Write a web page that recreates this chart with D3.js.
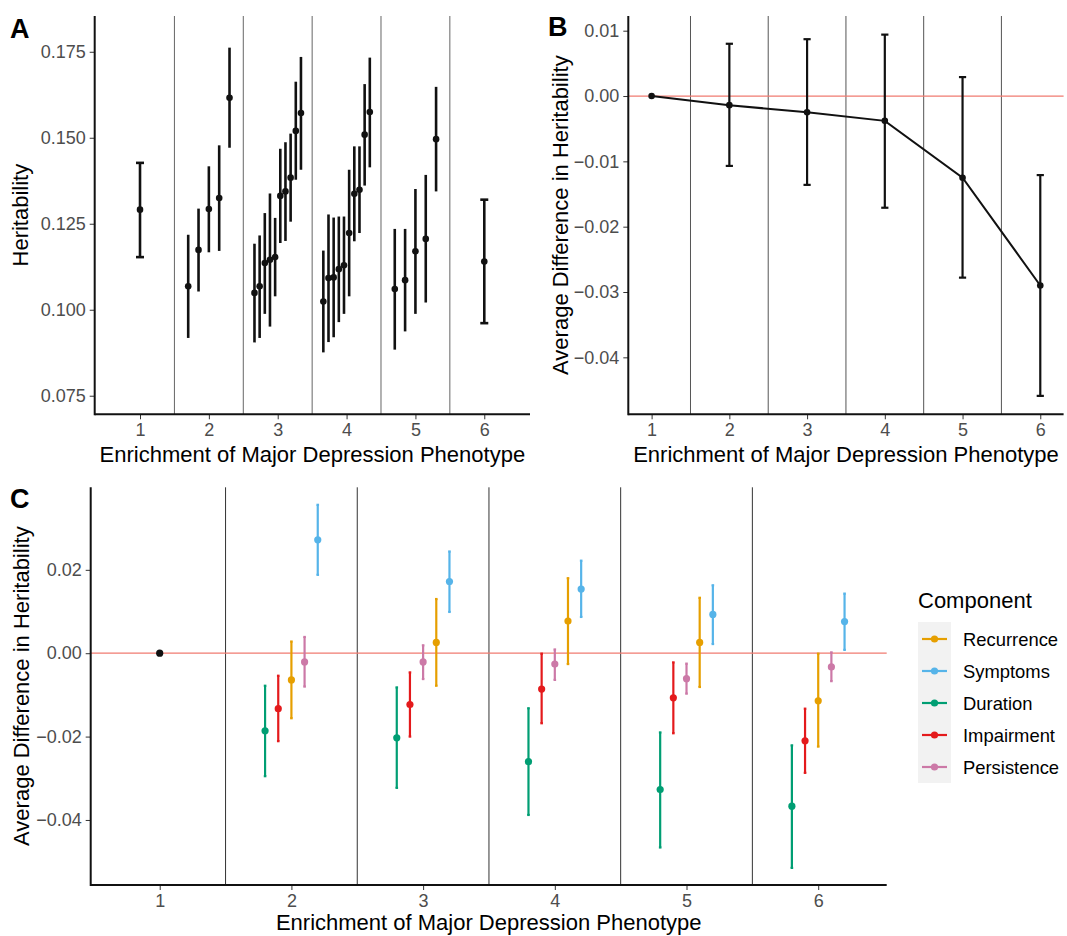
<!DOCTYPE html>
<html>
<head>
<meta charset="utf-8">
<script src="https://cdn.jsdelivr.net/npm/d3@7"></script>
<style>
  body { margin: 0; background: #fff; }
  svg { font-family: "Liberation Sans", Arial, sans-serif; display: block; }
  .tick text { fill: #4d4d4d; font-size: 18px; }
  .tick line { stroke: #333; }
  .domain { display: none; }
  .ttl { font-size: 22px; fill: #000; }
  .lab { font-size: 27px; font-weight: bold; }
</style>
</head>
<body>
<svg id="chart" width="1067" height="936"></svg>
<script>
// panel A: heritability of each phenotype definition, grouped by enrichment level
const aGroup = [1, 2, 2, 2, 2, 2, 3, 3, 3, 3, 3, 3, 3, 3, 3, 3, 4, 4, 4, 4, 4, 4, 4, 4, 4, 4, 5, 5, 5, 5, 5, 6];
const aEst = [0.1291,
  0.1068, 0.1174, 0.1293, 0.1325, 0.1616,
  0.1049, 0.1068, 0.1136, 0.1145, 0.1153, 0.1331, 0.1344, 0.1384, 0.1520, 0.1572,
  0.1024, 0.1092, 0.1094, 0.1118, 0.1129, 0.1223, 0.1337, 0.1349, 0.1509, 0.1575,
  0.1060, 0.1086, 0.1170, 0.1206, 0.1496,
  0.1140];
const aLo = [0.1153,
  0.0918, 0.1053, 0.1167, 0.1171, 0.1471,
  0.0905, 0.0918, 0.0988, 0.0951, 0.1039, 0.1194, 0.1200, 0.1256, 0.1378, 0.1407,
  0.0876, 0.0906, 0.0920, 0.0964, 0.0988, 0.1039, 0.1199, 0.1223, 0.1361, 0.1414,
  0.0884, 0.0937, 0.0988, 0.1021, 0.1344,
  0.0961];
const aHi = [0.1427,
  0.1218, 0.1294, 0.1417, 0.1478, 0.1762,
  0.1192, 0.1216, 0.1281, 0.1338, 0.1267, 0.1468, 0.1487, 0.1512, 0.1663, 0.1735,
  0.1172, 0.1277, 0.1268, 0.1271, 0.1271, 0.1407, 0.1475, 0.1475, 0.1656, 0.1733,
  0.1235, 0.1235, 0.1351, 0.1392, 0.1648,
  0.1320];
const aTicks = [0.075, 0.100, 0.125, 0.150, 0.175];

// panel B: average difference in heritability per level
const bLevel = [1, 2, 3, 4, 5, 6];
const bEst = [0, -0.0014, -0.0025, -0.0038, -0.0125, -0.0290];
const bLo = [0, -0.0107, -0.0136, -0.0171, -0.0278, -0.0459];
const bHi = [0, 0.0080, 0.0087, 0.0094, 0.0029, -0.0121];
const bTicks = [-0.04, -0.03, -0.02, -0.01, 0.00, 0.01];

// panel C: by component, levels 2..6 (level 1 is the reference at 0)
const cLevel = [2, 3, 4, 5, 6];
const components = ["Recurrence", "Symptoms", "Duration", "Impairment", "Persistence"];
const compColors = ["#E69F00", "#56B4E9", "#009E73", "#E41A1C", "#CC79A7"];
const cEst = [
  [-0.0064, 0.0026, 0.0077, 0.0026, -0.0114],
  [0.0272, 0.0172, 0.0154, 0.0093, 0.0076],
  [-0.0186, -0.0203, -0.0260, -0.0327, -0.0367],
  [-0.0133, -0.0123, -0.0086, -0.0107, -0.0210],
  [-0.0021, -0.0021, -0.0026, -0.0061, -0.0033]
];
const cLo = [
  [-0.0156, -0.0078, -0.0026, -0.0081, -0.0224],
  [0.0188, 0.0099, 0.0087, 0.0022, 0.0008],
  [-0.0295, -0.0323, -0.0388, -0.0466, -0.0515],
  [-0.0211, -0.0200, -0.0168, -0.0192, -0.0287],
  [-0.0080, -0.0062, -0.0064, -0.0097, -0.0067]
];
const cHi = [
  [0.0028, 0.0130, 0.0180, 0.0133, -0.0001],
  [0.0356, 0.0244, 0.0222, 0.0163, 0.0143],
  [-0.0078, -0.0082, -0.0132, -0.0190, -0.0221],
  [-0.0054, -0.0046, -0.0001, -0.0022, -0.0133],
  [0.0039, 0.0019, 0.0009, -0.0025, 0.0002]
];
const cTicks = [-0.04, -0.02, 0.00, 0.02];

const xLevels = [1, 2, 3, 4, 5, 6];
const xTitle = "Enrichment of Major Depression Phenotype";

const svg = d3.select('#chart');

function panel(cfg) {
  const g = svg.append('g');
  const x = d3.scaleLinear().domain(cfg.xDomain).range([cfg.left, cfg.right]);
  const y = d3.scaleLinear().domain(cfg.yDomain).range([cfg.bottom, cfg.top]);

  // separators between levels
  g.selectAll('.sep')
    .data([1.5, 2.5, 3.5, 4.5, 5.5])
    .enter()
    .append('line')
    .attr('x1', d => x(d)).attr('x2', d => x(d))
    .attr('y1', cfg.top).attr('y2', cfg.bottom)
    .attr('stroke', cfg.sepColor || '#555')
    .attr('stroke-width', 1);

  if (cfg.zeroLine) {
    g.append('line')
      .attr('x1', cfg.left).attr('x2', cfg.right)
      .attr('y1', y(0)).attr('y2', y(0))
      .attr('stroke', '#F07B70')
      .attr('stroke-width', 1.2);
  }

  g.append('g')
    .attr('transform', `translate(0, ${cfg.bottom})`)
    .call(d3.axisBottom(x).tickValues(xLevels).tickFormat(d3.format('d')).tickSize(5).tickPadding(4));
  g.append('g')
    .attr('transform', `translate(${cfg.left}, 0)`)
    .call(d3.axisLeft(y).tickValues(cfg.yTicks).tickFormat(d3.format(cfg.yFmt)).tickSize(5).tickPadding(4));

  // axis lines
  g.append('line')
    .attr('x1', cfg.left).attr('x2', cfg.right)
    .attr('y1', cfg.bottom).attr('y2', cfg.bottom)
    .attr('stroke', '#111').attr('stroke-width', 2);
  g.append('line')
    .attr('x1', cfg.left).attr('x2', cfg.left)
    .attr('y1', cfg.top).attr('y2', cfg.bottom + 1)
    .attr('stroke', '#111').attr('stroke-width', 2);

  g.append('text')
    .attr('class', 'ttl')
    .attr('x', (cfg.left + cfg.right) / 2)
    .attr('y', cfg.xTitleY)
    .attr('text-anchor', 'middle')
    .text(xTitle);
  g.append('text')
    .attr('class', 'ttl')
    .attr('transform', `translate(${cfg.yTitleX}, ${(cfg.top + cfg.bottom) / 2}) rotate(-90)`)
    .attr('text-anchor', 'middle')
    .text(cfg.yTitle);
  g.append('text')
    .attr('class', 'lab')
    .attr('x', cfg.labX).attr('y', cfg.labY)
    .text(cfg.label);

  return { g, x, y };
}

function errorBars(g, data, cap, width) {
  g.selectAll(null).data(data).enter().append('line')
    .attr('x1', d => d.px).attr('x2', d => d.px)
    .attr('y1', d => d.py0).attr('y2', d => d.py1)
    .attr('stroke', d => d.color).attr('stroke-width', width);
  if (cap > 0) {
    ['py0', 'py1'].forEach(k => {
      g.selectAll(null).data(data).enter().append('line')
        .attr('x1', d => d.px - (d.cap !== undefined ? d.cap : cap))
        .attr('x2', d => d.px + (d.cap !== undefined ? d.cap : cap))
        .attr('y1', d => d[k]).attr('y2', d => d[k])
        .attr('stroke', d => d.color).attr('stroke-width', width);
    });
  }
}

function dots(g, data, r) {
  g.selectAll(null).data(data).enter().append('circle')
    .attr('cx', d => d.px).attr('cy', d => d.pyc)
    .attr('r', r)
    .attr('fill', d => d.color);
}

// ---------- Panel A ----------
const A = panel({
  left: 94.7, right: 530, top: 16, bottom: 414.3,
  xDomain: [0.342, 6.664], yDomain: [0.0696, 0.1854],
  yTicks: aTicks, yFmt: '.3f',
  xTitleY: 462, yTitleX: 28, yTitle: 'Heritability',
  labX: 10, labY: 38, label: 'A', sepColor: '#666'
});
const aCount = d3.rollup(aGroup, v => v.length, d => d);
const aIndex = {};
const aData = aGroup.map((grp, i) => {
  const n = aCount.get(grp);
  const k = aIndex[grp] = (aIndex[grp] === undefined ? 0 : aIndex[grp] + 1);
  const off = (k - (n - 1) / 2) * 0.75 / n;
  return {
    px: A.x(grp + off), pyc: A.y(aEst[i]), py0: A.y(aLo[i]), py1: A.y(aHi[i]),
    color: '#111', cap: n === 1 ? 4 : 0
  };
});
errorBars(A.g, aData, 0.0001, 2.6);
dots(A.g, aData, 3.3);

// ---------- Panel B ----------
const B = panel({
  left: 628.3, right: 1063.6, top: 16, bottom: 414.3,
  xDomain: [0.7, 6.3], yDomain: [-0.04872, 0.01225],
  yTicks: bTicks, yFmt: '.2f',
  xTitleY: 462, yTitleX: 568, yTitle: 'Average Difference in Heritability',
  labX: 548, labY: 36, label: 'B', zeroLine: true
});
const bData = bLevel.map((lv, i) => ({
  px: B.x(lv), pyc: B.y(bEst[i]), py0: B.y(bLo[i]), py1: B.y(bHi[i]), color: '#111'
}));
errorBars(B.g, bData.filter((d, i) => bLo[i] !== bHi[i]), 3.6, 2.2);
B.g.append('path')
  .datum(bData)
  .attr('fill', 'none')
  .attr('stroke', '#111')
  .attr('stroke-width', 2)
  .attr('d', d3.line().x(d => d.px).y(d => d.pyc));
dots(B.g, bData, 3.3);

// ---------- Panel C ----------
const C = panel({
  left: 90.7, right: 886.7, top: 487.3, bottom: 885,
  xDomain: [0.476, 6.52], yDomain: [-0.0556, 0.0398],
  yTicks: cTicks, yFmt: '.2f',
  xTitleY: 930, yTitleX: 29, yTitle: 'Average Difference in Heritability',
  labX: 10, labY: 508, label: 'C', zeroLine: true, sepColor: '#333'
});
const cData = [];
cLevel.forEach((lv, j) => {
  // dodge ordered by estimate within each level
  const order = d3.range(components.length).sort((a, b) => cEst[a][j] - cEst[b][j]);
  order.forEach((ci, rank) => {
    const off = (rank - 2) * 0.1;
    cData.push({
      px: C.x(lv + off), pyc: C.y(cEst[ci][j]),
      py0: C.y(cLo[ci][j]), py1: C.y(cHi[ci][j]),
      color: compColors[ci]
    });
  });
});
errorBars(C.g, cData, 1.3, 2.2);
dots(C.g, cData, 3.6);
dots(C.g, [{ px: C.x(1), pyc: C.y(0), color: '#111' }], 3.6);

// legend
const leg = svg.append('g').attr('transform', 'translate(918, 580)');
leg.append('text')
  .attr('class', 'ttl')
  .attr('x', 0).attr('y', 28)
  .text('Component');
leg.append('rect')
  .attr('x', 0).attr('y', 42)
  .attr('width', 33).attr('height', 161)
  .attr('fill', '#f2f2f2');
const items = leg.selectAll('.item')
  .data(components)
  .enter()
  .append('g')
  .attr('class', 'item')
  .attr('transform', (d, i) => `translate(0, ${59 + i * 32})`);
items.append('line')
  .attr('x1', 4).attr('x2', 29)
  .attr('stroke', (d, i) => compColors[i])
  .attr('stroke-width', 2.2);
items.append('circle')
  .attr('cx', 16.5).attr('r', 3.6)
  .attr('fill', (d, i) => compColors[i]);
items.append('text')
  .attr('x', 45).attr('y', 6.5)
  .attr('font-size', 18.4)
  .text(d => d);
</script>
</body>
</html>
